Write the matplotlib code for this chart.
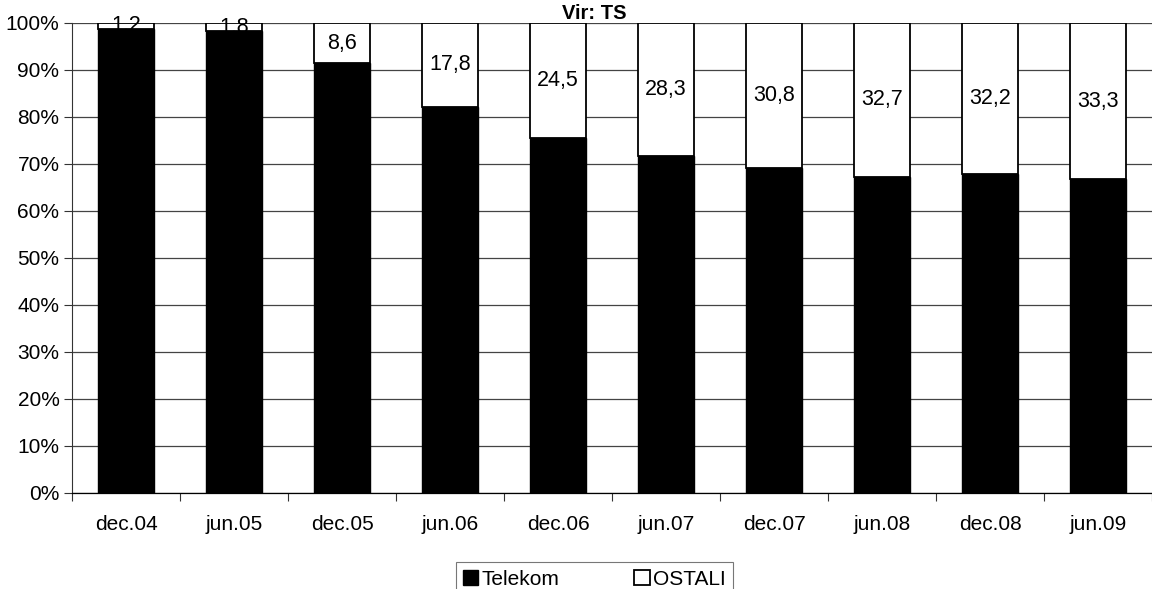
import numpy as np
import matplotlib.pyplot as plt
from matplotlib.ticker import FixedLocator, PercentFormatter

plt.rcParams["font.family"] = ["Liberation Sans", "DejaVu Sans"]

categories = ["dec.04", "jun.05", "dec.05", "jun.06", "dec.06",
              "jun.07", "dec.07", "jun.08", "dec.08", "jun.09"]
ostali = [1.2, 1.8, 8.6, 17.8, 24.5, 28.3, 30.8, 32.7, 32.2, 33.3]
telekom = [100 - v for v in ostali]
ostali_labels = ["1,2", "1,8", "8,6", "17,8", "24,5", "28,3", "30,8", "32,7", "32,2", "33,3"]

fig = plt.figure(figsize=(11.52, 5.89), dpi=100)
ax = fig.add_axes([0.0625, 0.163, 0.9375, 0.798])

x = np.arange(len(categories))
w = 0.51
ax.bar(x, telekom, w, color="black", edgecolor="black", lw=1, label="Telekom", zorder=3)
ax.bar(x, ostali, w, bottom=telekom, color="white", edgecolor="black", lw=1.3,
       label="OSTALI", zorder=3)

for xi, t, o, lab in zip(x, telekom, ostali, ostali_labels):
    ax.text(xi, t + o / 2, lab, ha="center", va="center", fontsize=15.5, zorder=4)

ax.set_xlim(-0.5, len(categories) - 0.5)
ax.set_ylim(0, 100)
ax.yaxis.set_major_locator(FixedLocator(np.arange(0, 101, 10)))
ax.yaxis.set_major_formatter(PercentFormatter(decimals=0))
ax.set_xticks(x)
ax.set_xticklabels(categories)
ax.xaxis.set_minor_locator(FixedLocator(np.arange(-0.5, len(categories), 1)))
ax.tick_params(axis="x", which="major", length=0, pad=16, labelsize=15)
ax.tick_params(axis="x", which="minor", length=6, width=0.8, color="#333333")
ax.tick_params(axis="y", length=6, width=0.8, labelsize=15, pad=3, color="#333333")

# only horizontal gridlines
ax.grid(True, axis="y", color="#444444", lw=0.9, zorder=0)
for side in ["top", "right"]:
    ax.spines[side].set_visible(False)
ax.spines["left"].set_linewidth(0.8)
ax.spines["left"].set_color("#333333")
ax.spines["bottom"].set_linewidth(0.9)

ax.set_title("Vir: TS", fontsize=14.5, fontweight="bold", pad=3, x=0.484)

leg = fig.legend(loc="lower center", bbox_to_anchor=(0.516, -0.012), ncol=2,
                 fontsize=15, frameon=True, fancybox=False, handlelength=0.75,
                 handleheight=0.75, handletextpad=0.15, columnspacing=3.6,
                 borderpad=0.35, borderaxespad=0.0)
leg.get_frame().set_edgecolor("#555555")
leg.get_frame().set_linewidth(0.8)

fig.savefig("out.png", dpi=100)
